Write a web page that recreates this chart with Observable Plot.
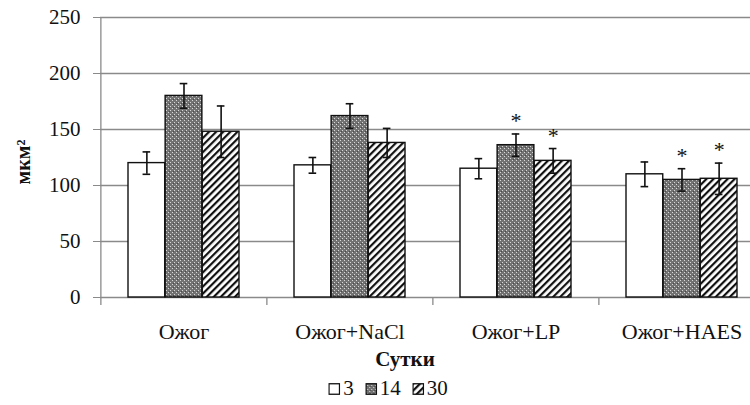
<!DOCTYPE html>
<html><head><meta charset="utf-8">
<script src="https://cdn.jsdelivr.net/npm/d3@7"></script>
<script src="https://cdn.jsdelivr.net/npm/@observablehq/plot@0.6"></script>
<style>
html,body{margin:0;padding:0;background:#fff;overflow:hidden}
#wrap{position:relative;width:750px;height:405px;overflow:hidden;font-family:"Liberation Serif","Times New Roman",serif;color:#111}
#chart{position:absolute;left:0;top:0;width:765px}
#chart svg{max-width:none !important}
#xtitle{position:absolute;left:405px;top:349px;transform:translateX(-50%);font-weight:bold;font-size:21px;line-height:21px;white-space:nowrap}
#legend{position:absolute;left:388px;top:378px;transform:translateX(-50%);font-size:21px;line-height:21px;white-space:nowrap;display:flex;align-items:center}
#legend span.item{display:inline-flex;align-items:center;margin-right:11px}
#legend span.item:last-child{margin-right:0}
#legend svg{margin-right:3px}
#ylabel{position:absolute;left:23px;top:162px;transform:translate(-50%,-50%) rotate(-90deg);font-weight:bold;font-size:20px;line-height:20px;white-space:nowrap}
</style></head>
<body>
<svg width="0" height="0" style="position:absolute">
  <defs>
    <pattern id="dots" width="4" height="4" patternUnits="userSpaceOnUse">
      <rect width="4" height="4" fill="#727272"/>
      <rect x="0" y="0" width="1" height="1" fill="#d8d8d8"/>
      <rect x="2" y="2" width="1" height="1" fill="#d8d8d8"/>
      <rect x="1" y="3" width="1" height="1" fill="#4a4a4a"/>
    </pattern>
    <pattern id="hatch" width="5" height="5" patternUnits="userSpaceOnUse" patternTransform="rotate(45)">
      <rect width="5" height="5" fill="white"/>
      <rect width="2.2" height="5" fill="#111"/>
    </pattern>
  </defs>
</svg>
<div id="wrap">
  <div id="chart"></div>
  <div id="ylabel">мкм²</div>
  <div id="xtitle">Сутки</div>
  <div id="legend"></div>
</div>
<script>
const categories = ["Ожог", "Ожог+NaCl", "Ожог+LP", "Ожог+HAES"];
const days = ["3", "14", "30"];
const v3 = [120, 118, 115, 110];
const e3 = [10, 7, 9, 11];
const v14 = [180, 162, 136, 105];
const e14 = [11, 11, 10, 10];
const v30 = [148, 138, 122, 106];
const e30 = [23, 13, 11, 14];
const stars14 = ["", "", "*", "*"];
const stars30 = ["", "", "*", "*"];
const yTicks = [0, 50, 100, 150, 200, 250];

const fills = ["white", "url(#dots)", "url(#hatch)"];
const seriesVals = [v3, v14, v30];
const seriesErr = [e3, e14, e30];
const seriesStars = [categories.map(() => ""), stars14, stars30];

const W = 765, H = 405, ML = 100, MR = 0, MT = 17, MB = 108;
const padIn = 0.33;
const step = (W - ML - MR) / categories.length;
const bw = step * (1 - padIn);
const sub = bw / 3;
const cap = 4;

const marks = [
  Plot.ruleY(yTicks, {stroke: "#8a8a8a", strokeWidth: 1.3}),
];
days.forEach((day, k) => {
  const rows = categories.map((c, i) => ({cat: c, v: seriesVals[k][i], e: seriesErr[k][i], star: seriesStars[k][i]}));
  const c = bw / 2 + (k - 1) * sub;
  marks.push(
    Plot.barY(rows, {x: "cat", y: "v", fill: fills[k], stroke: "#111", strokeWidth: 1.4,
      insetLeft: k * sub, insetRight: (2 - k) * sub}),
    Plot.ruleX(rows, {x: "cat", y1: d => d.v - d.e, y2: d => d.v + d.e, dx: (k - 1) * sub, stroke: "#111", strokeWidth: 1.6}),
    Plot.tickY(rows, {x: "cat", y: d => d.v + d.e, insetLeft: c - cap, insetRight: bw - c - cap, stroke: "#111", strokeWidth: 1.6}),
    Plot.tickY(rows, {x: "cat", y: d => d.v - d.e, insetLeft: c - cap, insetRight: bw - c - cap, stroke: "#111", strokeWidth: 1.6}),
    Plot.text(rows.filter(d => d.star), {x: "cat", y: d => d.v + d.e, text: "star", dx: (k - 1) * sub, dy: -13,
      fontSize: 22, fill: "#111", fontFamily: "Liberation Serif"})
  );
});
marks.push(
  Plot.ruleX([categories[0]], {x: d => d, dx: -step / 2, y1: 250, y2: 0, insetBottom: -8, stroke: "#8a8a8a", strokeWidth: 1.3}),
  Plot.ruleX(categories.slice(1), {x: d => d, dx: -step / 2, y1: 0, y2: 0, insetBottom: -8, stroke: "#8a8a8a", strokeWidth: 1.3}),
  Plot.axisY({ticks: yTicks, tickSize: 7, tickPadding: 13, fontSize: 21, stroke: "#8a8a8a", fill: "#111", label: null}),
  Plot.axisX({tickSize: 0, tickPadding: 26, fontSize: 22, fill: "#111", label: null})
);

const chart = Plot.plot({
  width: W, height: H,
  marginLeft: ML, marginRight: MR, marginTop: MT, marginBottom: MB,
  style: {fontFamily: "Liberation Serif, Times New Roman, serif", background: "transparent", overflow: "visible"},
  x: {type: "band", domain: categories, paddingInner: padIn, paddingOuter: padIn / 2},
  y: {domain: [0, 250]},
  marks
});
chart.style.maxWidth = "none";
chart.style.width = W + "px";
chart.style.height = H + "px";
document.getElementById("chart").appendChild(chart);

// legend
const legend = document.getElementById("legend");
days.forEach((day, k) => {
  const item = document.createElement("span");
  item.className = "item";
  item.innerHTML = `<svg width="12" height="12"><rect x="0.75" y="0.75" width="10.5" height="10.5" fill="${fills[k]}" stroke="#111" stroke-width="1.3"/></svg><span>${day}</span>`;
  legend.appendChild(item);
});
</script>
</body></html>
